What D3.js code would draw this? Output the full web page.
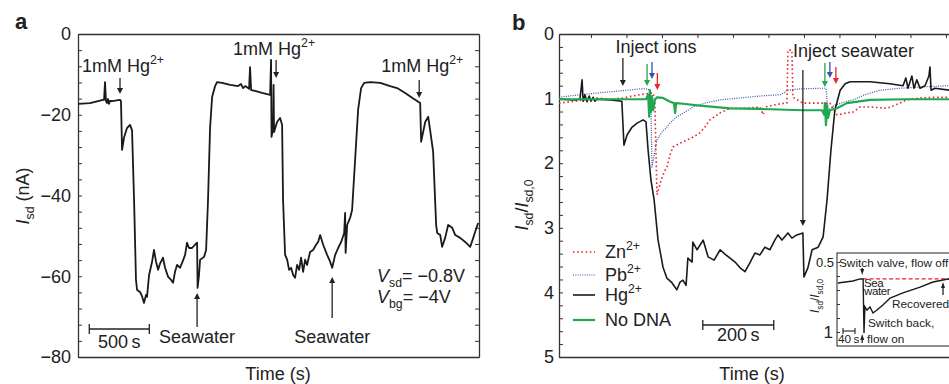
<!DOCTYPE html>
<html>
<head>
<meta charset="utf-8">
<script src="https://cdn.jsdelivr.net/npm/d3@7"></script>
<style>
  html, body { margin: 0; padding: 0; background: #fff; }
  svg { display: block; font-family: "Liberation Sans", Arial, Helvetica, sans-serif; }
</style>
</head>
<body>
<div id="chart"></div>
<script>
// ---- panel a: Isd (nA) vs time (s)
const traceA = [[0,-17.3],[100,-17.1],[208,-16.3],[217,-16.3],[225,-11.9],[233,-16.6],[242,-17.1],[250,-16.1],[258,-17.3],[267,-16.6],[283,-16.6],[350,-16.3],[358,-16.6],[367,-28.7],[383,-25.7],[408,-23.3],[433,-22.5],[450,-23.8],[467,-41.1],[483,-60.9],[492,-63.4],[517,-63.9],[533,-64.9],[550,-66.6],[567,-64.6],[575,-65.1],[592,-59.7],[617,-56.4],[633,-53.5],[650,-56.4],[667,-58.4],[683,-56.9],[708,-55.4],[725,-57.9],[750,-60.1],[775,-60.9],[792,-61.6],[808,-58.9],[825,-57.2],[850,-57.9],[867,-56.7],[892,-54.7],[908,-51.7],[925,-53.0],[950,-53.0],[975,-52.2],[992,-51.7],[996,-62.9],[1008,-59.7],[1017,-55.9],[1050,-55.2],[1067,-53.5],[1083,-41.1],[1100,-23.3],[1117,-15.6],[1142,-12.9],[1158,-11.9],[1200,-12.1],[1267,-12.6],[1333,-12.9],[1358,-12.4],[1375,-13.4],[1392,-12.9],[1417,-13.4],[1425,-13.6],[1433,-8.2],[1442,-13.9],[1475,-14.1],[1533,-14.6],[1600,-15.1],[1608,-6.4],[1612,-25.5],[1625,-23.3],[1629,-12.6],[1633,-24.3],[1658,-21.8],[1683,-20.8],[1700,-22.5],[1708,-41.1],[1725,-54.7],[1742,-55.9],[1758,-58.4],[1775,-57.9],[1792,-59.7],[1808,-60.4],[1825,-57.2],[1842,-58.4],[1858,-55.4],[1875,-58.9],[1892,-55.9],[1908,-57.2],[1933,-54.0],[1958,-53.5],[1983,-52.2],[2000,-51.5],[2017,-49.8],[2042,-52.2],[2075,-54.7],[2100,-56.4],[2117,-57.9],[2142,-54.7],[2167,-53.0],[2192,-51.5],[2217,-49.3],[2225,-44.3],[2229,-54.2],[2242,-47.3],[2267,-45.5],[2283,-43.6],[2308,-31.2],[2333,-18.8],[2358,-13.4],[2383,-12.1],[2433,-11.9],[2517,-12.1],[2600,-12.9],[2658,-13.4],[2725,-14.6],[2783,-15.8],[2850,-17.1],[2858,-26.7],[2892,-21.8],[2917,-20.5],[2933,-23.8],[2958,-29.2],[2983,-47.3],[2992,-49.3],[3017,-49.8],[3033,-52.7],[3058,-50.5],[3083,-47.3],[3117,-48.0],[3142,-49.8],[3183,-50.5],[3225,-51.5],[3267,-52.7],[3292,-50.5],[3308,-49.0],[3333,-46.8]];
const hgTimesA = [350, 1650, 2842];
const seaTimesA = [992, 2117];
const yTicksA = d3.range(-80, 1, 4);

// ---- panel b: Isd/Isd,0 vs time (s)
const znB = [[0,1.07],[45,1.04],[107,0.99],[144,1.01],[180,0.99],[228,0.94],[265,0.91],[270,1.02],[273,1.80],[276,2.49],[285,2.31],[296,2.14],[304,2.06],[313,1.87],[321,1.75],[341,1.69],[361,1.64],[383,1.58],[397,1.53],[411,1.44],[425,1.33],[454,1.22],[482,1.15],[524,1.15],[566,1.13],[575,1.25],[580,1.13],[623,1.08],[642,1.07],[645,0.25],[656,0.25],[659,0.98],[687,1.07],[721,1.07],[763,1.07],[775,1.18],[783,1.25],[797,1.24],[811,1.22],[828,1.21],[848,1.13],[876,1.13],[924,1.15],[947,1.10],[980,1.02],[1017,0.99],[1059,0.98],[1099,0.98]];
const pbB = [[0,0.98],[59,0.94],[115,0.91],[172,0.88],[228,0.85],[251,0.85],[256,0.90],[259,1.18],[262,2.06],[268,1.87],[276,1.64],[290,1.52],[304,1.44],[318,1.35],[332,1.28],[355,1.21],[377,1.13],[411,1.07],[454,1.02],[510,0.99],[566,0.96],[623,0.94],[637,0.90],[642,0.87],[679,0.85],[735,0.84],[752,0.84],[758,1.18],[777,1.10],[806,1.05],[828,1.02],[862,0.94],[904,0.87],[961,0.84],[1017,0.82],[1099,0.80]];
const hgB = [[0,1.01],[45,1.02],[59,1.01],[65,0.71],[68,1.04],[73,0.94],[79,1.05],[85,0.96],[90,1.04],[96,0.98],[101,1.04],[107,1.01],[144,1.02],[177,1.04],[183,1.72],[192,1.56],[206,1.44],[220,1.38],[237,1.33],[245,1.36],[251,1.80],[259,2.26],[268,2.57],[279,3.19],[293,3.61],[304,3.78],[318,3.85],[332,3.96],[341,3.84],[349,3.81],[358,3.89],[363,3.47],[375,3.53],[377,3.22],[389,3.34],[406,3.19],[420,3.45],[437,3.50],[454,3.34],[468,3.41],[482,3.47],[496,3.53],[510,3.62],[524,3.68],[538,3.54],[552,3.39],[566,3.42],[580,3.30],[594,3.34],[608,3.19],[617,3.11],[628,3.19],[645,3.08],[656,3.16],[670,3.11],[687,3.08],[690,3.76],[701,3.62],[713,3.34],[730,3.30],[744,3.14],[755,2.57],[766,1.80],[777,1.18],[792,0.87],[806,0.77],[820,0.74],[876,0.74],[932,0.77],[969,0.80],[977,0.68],[983,0.84],[994,0.65],[1000,0.84],[1008,0.71],[1017,0.84],[1031,0.80],[1042,0.65],[1045,0.51],[1048,0.87],[1059,0.84],[1099,0.87]];
const noDnaB = [[0,1.01],[115,1.01],[245,1.01],[251,0.94],[254,1.28],[256,0.87],[259,1.21],[262,0.96],[265,1.18],[270,1.02],[276,0.98],[293,0.99],[313,1.05],[324,1.07],[327,1.22],[330,1.07],[349,1.08],[397,1.11],[482,1.15],[566,1.16],[687,1.18],[741,1.18],[747,1.25],[749,1.07],[752,1.41],[755,1.10],[758,1.30],[763,1.18],[783,1.15],[811,1.07],[876,1.02],[980,1.01],[1099,1.01]];
const seriesNames = ['Zn', 'Pb', 'Hg', 'No DNA'];
const ionArrowTimes = { Hg: 180, NoDNA: 248, Pb: 262, Zn: 277 };
const seaArrowTimes = { Hg: 687, NoDNA: 749, Pb: 763, Zn: 780 };
const yTicksB = d3.range(0, 26).map(i => i / 5);
const xTopTicksB = d3.range(90, 1140, 100);

// ---- inset
const insetTrace = [[3,0.65],[53,0.636],[77,0.621],[87,0.621],[90,1.007],[93,0.82],[100,0.843],[110,0.821],[120,0.864],[133,0.843],[153,0.807],[177,0.757],[220,0.721],[277,0.679],[320,0.643],[370,0.621],[410,0.621]];
const insetBaseline = 0.621;
const insetTicks = [0.5, 0.6, 0.7, 0.8, 0.9, 1.0];

const W = 949, H = 384;
const AX = '#333';
const C = { Zn: '#e8262c', Pb: '#3553a8', Hg: '#1a1a1a', NoDNA: '#1ea850' };
const FS = 18;
const FI = 11.8; // inset text

const svg = d3.select('#chart').append('svg').attr('width', W).attr('height', H);

function rich(sel, parts, size) {
  let off = 0;
  parts.forEach(([s, k]) => {
    const target = k === 'sup' ? -0.42 * size : k === 'sub' ? 0.3 * size : 0;
    const ts = sel.append('tspan').attr('dy', target - off).text(s);
    off = target;
    if (k === 'sup' || k === 'sub') ts.attr('font-size', size * 0.68);
    if (k === 'i') ts.attr('font-style', 'italic');
  });
  return sel;
}

function label(x, y, parts, size, anchor) {
  const t = svg.append('text').attr('x', x).attr('y', y)
    .attr('font-size', size || FS).attr('fill', '#222')
    .attr('text-anchor', anchor || 'start');
  return rich(t, parts, size || FS);
}

function arrow(x, y1, y2, color, w) {
  // y2 is the tip
  const dir = y2 > y1 ? 1 : -1;
  const hw = w || 3, hl = 6;
  svg.append('line').attr('x1', x).attr('x2', x).attr('y1', y1).attr('y2', y2 - dir * hl)
    .attr('stroke', color).attr('stroke-width', 1.3);
  svg.append('path')
    .attr('d', `M${x - hw},${y2 - dir * hl}L${x + hw},${y2 - dir * hl}L${x},${y2}Z`)
    .attr('fill', color);
}

function styleAxis(g) {
  g.selectAll('path.domain').attr('stroke', AX).attr('stroke-width', 1.3);
  g.selectAll('.tick line').attr('stroke', AX).attr('stroke-width', 1);
  g.selectAll('.tick text').attr('font-size', FS).attr('fill', '#222')
    .attr('font-family', '"Liberation Sans", Arial, sans-serif');
}

// ================= panel a =================
const xa = d3.scaleLinear([0, 3340], [78, 479]);
const ya = d3.scaleLinear([-80, 0], [357, 34]);
const fmt = d3.format('d');

svg.append('g').attr('transform', `translate(78,0)`)
  .call(d3.axisLeft(ya).tickValues(yTicksA).tickSize(-4).tickSizeOuter(0).tickPadding(7)
    .tickFormat(d => d % 20 === 0 ? fmt(d) : ''))
  .call(styleAxis);
svg.append('g').attr('transform', `translate(479,0)`)
  .call(d3.axisRight(ya).tickValues(yTicksA).tickSize(-4).tickSizeOuter(0).tickFormat(''))
  .call(styleAxis);
svg.append('g').attr('transform', `translate(0,34)`)
  .call(d3.axisTop(xa).tickValues([]).tickSizeOuter(0)).call(styleAxis);
svg.append('g').attr('transform', `translate(0,357)`)
  .call(d3.axisBottom(xa).tickValues([]).tickSizeOuter(0)).call(styleAxis);

const lineA = d3.line().x(d => xa(d[0])).y(d => ya(d[1]));
svg.append('path').datum(traceA).attr('d', lineA)
  .attr('fill', 'none').attr('stroke', C.Hg).attr('stroke-width', 1.8).attr('stroke-linejoin', 'round');

// annotations a
const hgLabY = [72, 55, 72];
const hgArrY = [[78, 94], [60, 78], [80, 98]];
hgTimesA.forEach((t, i) => {
  arrow(xa(t), hgArrY[i][0], hgArrY[i][1], '#222', 3);
  label(xa(t) - 38 + (i === 1 ? -5 : 0), hgLabY[i], [['1mM Hg', ''], ['2+', 'sup']]);
});
[[293, 327], [277, 318]].forEach((yy, i) => {
  arrow(xa(seaTimesA[i]), yy[1], yy[0], '#222', 3);
  label(xa(seaTimesA[i]), 343, [['Seawater', '']], FS, 'middle');
});
// scale bar 500 s
const sbA = svg.append('g');
sbA.append('line').attr('x1', xa(94)).attr('x2', xa(594)).attr('y1', 329).attr('y2', 329).attr('stroke', '#222').attr('stroke-width', 1.3);
[94, 594].forEach(t => sbA.append('line').attr('x1', xa(t)).attr('x2', xa(t)).attr('y1', 324).attr('y2', 334).attr('stroke', '#222').attr('stroke-width', 1.3));
label(xa(344), 348, [['500\u2009s', '']], FS, 'middle');
label(377, 282, [['V', 'i'], ['sd', 'sub'], ['= \u22120.8V', '']]);
label(377, 303, [['V', 'i'], ['bg', 'sub'], ['= \u22124V', '']]);

// axis labels a
label(15, 29, [['a', '']], 22).attr('font-weight', 'bold');
const yla = svg.append('text').attr('transform', 'translate(29,196) rotate(-90)')
  .attr('text-anchor', 'middle').attr('font-size', FS).attr('fill', '#222');
rich(yla, [['I', 'i'], ['sd', 'sub'], [' (nA)', '']], FS);
label(278, 380, [['Time (s)', '']], FS, 'middle');

// ================= panel b =================
const xb = d3.scaleLinear([0, 1140], [559, 963.7]);
const yb = d3.scaleLinear([0, 5], [34, 357]);

svg.append('g').attr('transform', `translate(559,0)`)
  .call(d3.axisLeft(yb).tickValues(yTicksB).tickSize(-4).tickSizeOuter(0).tickPadding(5)
    .tickFormat(d => Number.isInteger(d) ? d : ''))
  .call(styleAxis);
svg.append('g').attr('transform', `translate(0,34)`)
  .call(d3.axisTop(xb).tickValues(xTopTicksB).tickSize(-4).tickSizeOuter(0).tickFormat(''))
  .call(styleAxis);
svg.append('g').attr('transform', `translate(0,357)`)
  .call(d3.axisBottom(xb).tickValues([]).tickSizeOuter(0)).call(styleAxis);

const lineB = d3.line().x(d => xb(d[0])).y(d => yb(d[1]));
const seriesB = [
  { key: 'Pb', data: pbB, w: 1.2, dash: '1,1.3' },
  { key: 'Zn', data: znB, w: 1.6, dash: '1.6,2.6' },
  { key: 'Hg', data: hgB, w: 1.6, dash: null },
  { key: 'NoDNA', data: noDnaB, w: 2.2, dash: null }
];
seriesB.forEach(s => {
  svg.append('path').datum(s.data).attr('d', lineB)
    .attr('fill', 'none').attr('stroke', C[s.key]).attr('stroke-width', s.w)
    .attr('stroke-dasharray', s.dash).attr('stroke-linejoin', 'round');
});

// annotations b
label(656, 53, [['Inject ions', '']], FS, 'middle');
label(793, 57, [['Inject seawater', '']], FS, 'start');
const arrB = { Hg: [58, 86], NoDNA: [64, 86], Pb: [62, 79], Zn: [73, 90] };
const arrB2 = { NoDNA: [63, 87], Pb: [62, 78], Zn: [67, 84] };
['Hg', 'NoDNA', 'Pb', 'Zn'].forEach(k => {
  arrow(xb(ionArrowTimes[k]), arrB[k][0], arrB[k][1], k === 'Hg' ? '#222' : C[k], 3);
});
arrow(xb(seaArrowTimes.Hg), 70, 226, '#222', 3);
['NoDNA', 'Pb', 'Zn'].forEach(k => {
  arrow(xb(seaArrowTimes[k]), arrB2[k][0], arrB2[k][1], C[k], 3);
});

// legend
const legend = [
  { key: 'Zn', parts: [['Zn', ''], ['2+', 'sup']], y: 252, w: 1.6, dash: '1.6,2.6' },
  { key: 'Pb', parts: [['Pb', ''], ['2+', 'sup']], y: 275, w: 1.2, dash: '1,1.3' },
  { key: 'Hg', parts: [['Hg', ''], ['2+', 'sup']], y: 295, w: 1.6, dash: null },
  { key: 'NoDNA', parts: [['No DNA', '']], y: 320, w: 2.2, dash: null }
];
legend.forEach(l => {
  svg.append('line').attr('x1', 573).attr('x2', 595).attr('y1', l.y).attr('y2', l.y)
    .attr('stroke', C[l.key]).attr('stroke-width', l.w).attr('stroke-dasharray', l.dash);
  label(605, l.y + 6, l.parts);
});

// scale bar 200 s
const sbB = svg.append('g');
sbB.append('line').attr('x1', xb(405)).attr('x2', xb(605)).attr('y1', 325).attr('y2', 325).attr('stroke', '#222').attr('stroke-width', 1.3);
[405, 605].forEach(t => sbB.append('line').attr('x1', xb(t)).attr('x2', xb(t)).attr('y1', 320).attr('y2', 330).attr('stroke', '#222').attr('stroke-width', 1.3));
label(xb(505), 341, [['200\u2009s', '']], FS, 'middle');

label(512, 30, [['b', '']], 22).attr('font-weight', 'bold');
const ylb = svg.append('text').attr('transform', 'translate(528,205) rotate(-90)')
  .attr('text-anchor', 'middle').attr('font-size', FS).attr('fill', '#222');
rich(ylb, [['I', 'i'], ['sd', 'sub'], ['/', ''], ['I', 'i'], ['sd,0', 'sub']], FS);
label(752, 380, [['Time (s)', '']], FS, 'middle');

// ================= inset =================
const xi = d3.scaleLinear([0, 410], [837, 960]);
const yi = d3.scaleLinear([0.5, 1], [262, 332]);
svg.append('rect').attr('x', 837).attr('y', 253).attr('width', 130).attr('height', 93)
  .attr('fill', '#fff').attr('stroke', AX).attr('stroke-width', 1.1);
const iax = svg.append('g').attr('transform', 'translate(837,0)')
  .call(d3.axisLeft(yi).tickValues(insetTicks).tickSize(-3).tickSizeOuter(0).tickFormat(''));
iax.select('path.domain').remove();
iax.selectAll('.tick line').attr('stroke', AX);
label(834, 267, [['0.5', '']], 13, 'end');
label(833, 338, [['1', '']], 17, 'end');
const yli = svg.append('text').attr('transform', 'translate(819,296) rotate(-90)')
  .attr('text-anchor', 'middle').attr('font-size', 12).attr('fill', '#222');
rich(yli, [['I', 'i'], ['sd', 'sub'], ['/', ''], ['I', 'i'], ['sd,0', 'sub']], 12);

svg.append('line').attr('x1', xi(87)).attr('x2', xi(410)).attr('y1', yi(insetBaseline)).attr('y2', yi(insetBaseline))
  .attr('stroke', C.Zn).attr('stroke-width', 1.3).attr('stroke-dasharray', '4,2.5');
const lineI = d3.line().x(d => xi(d[0])).y(d => yi(d[1]));
svg.append('path').datum(insetTrace).attr('d', lineI)
  .attr('fill', 'none').attr('stroke', C.Hg).attr('stroke-width', 1.4);

label(839, 267, [['Switch valve, flow off', '']], FI);
arrow(xi(84), 268, 275, '#222', 2);
label(864, 287, [['Sea', '']], 11.5).attr('letter-spacing', '-0.4');
label(864, 295, [['water', '']], 11.5).attr('letter-spacing', '-0.4');
label(892, 308, [['Recovered', '']], FI);
arrow(943, 295, 282, '#222', 2);
label(868, 327, [['Switch back,', '']], FI);
svg.append('line').attr('x1', xi(20)).attr('x2', xi(60)).attr('y1', 331).attr('y2', 331).attr('stroke', '#222').attr('stroke-width', 1.1);
[20, 60].forEach(t => svg.append('line').attr('x1', xi(t)).attr('x2', xi(t)).attr('y1', 328).attr('y2', 334).attr('stroke', '#222').attr('stroke-width', 1.1));
label(838, 343, [['40\u2009s', '']], FI);
arrow(xi(84), 343, 334, '#222', 2);
label(867, 343, [['flow on', '']], FI);
</script>
</body>
</html>
